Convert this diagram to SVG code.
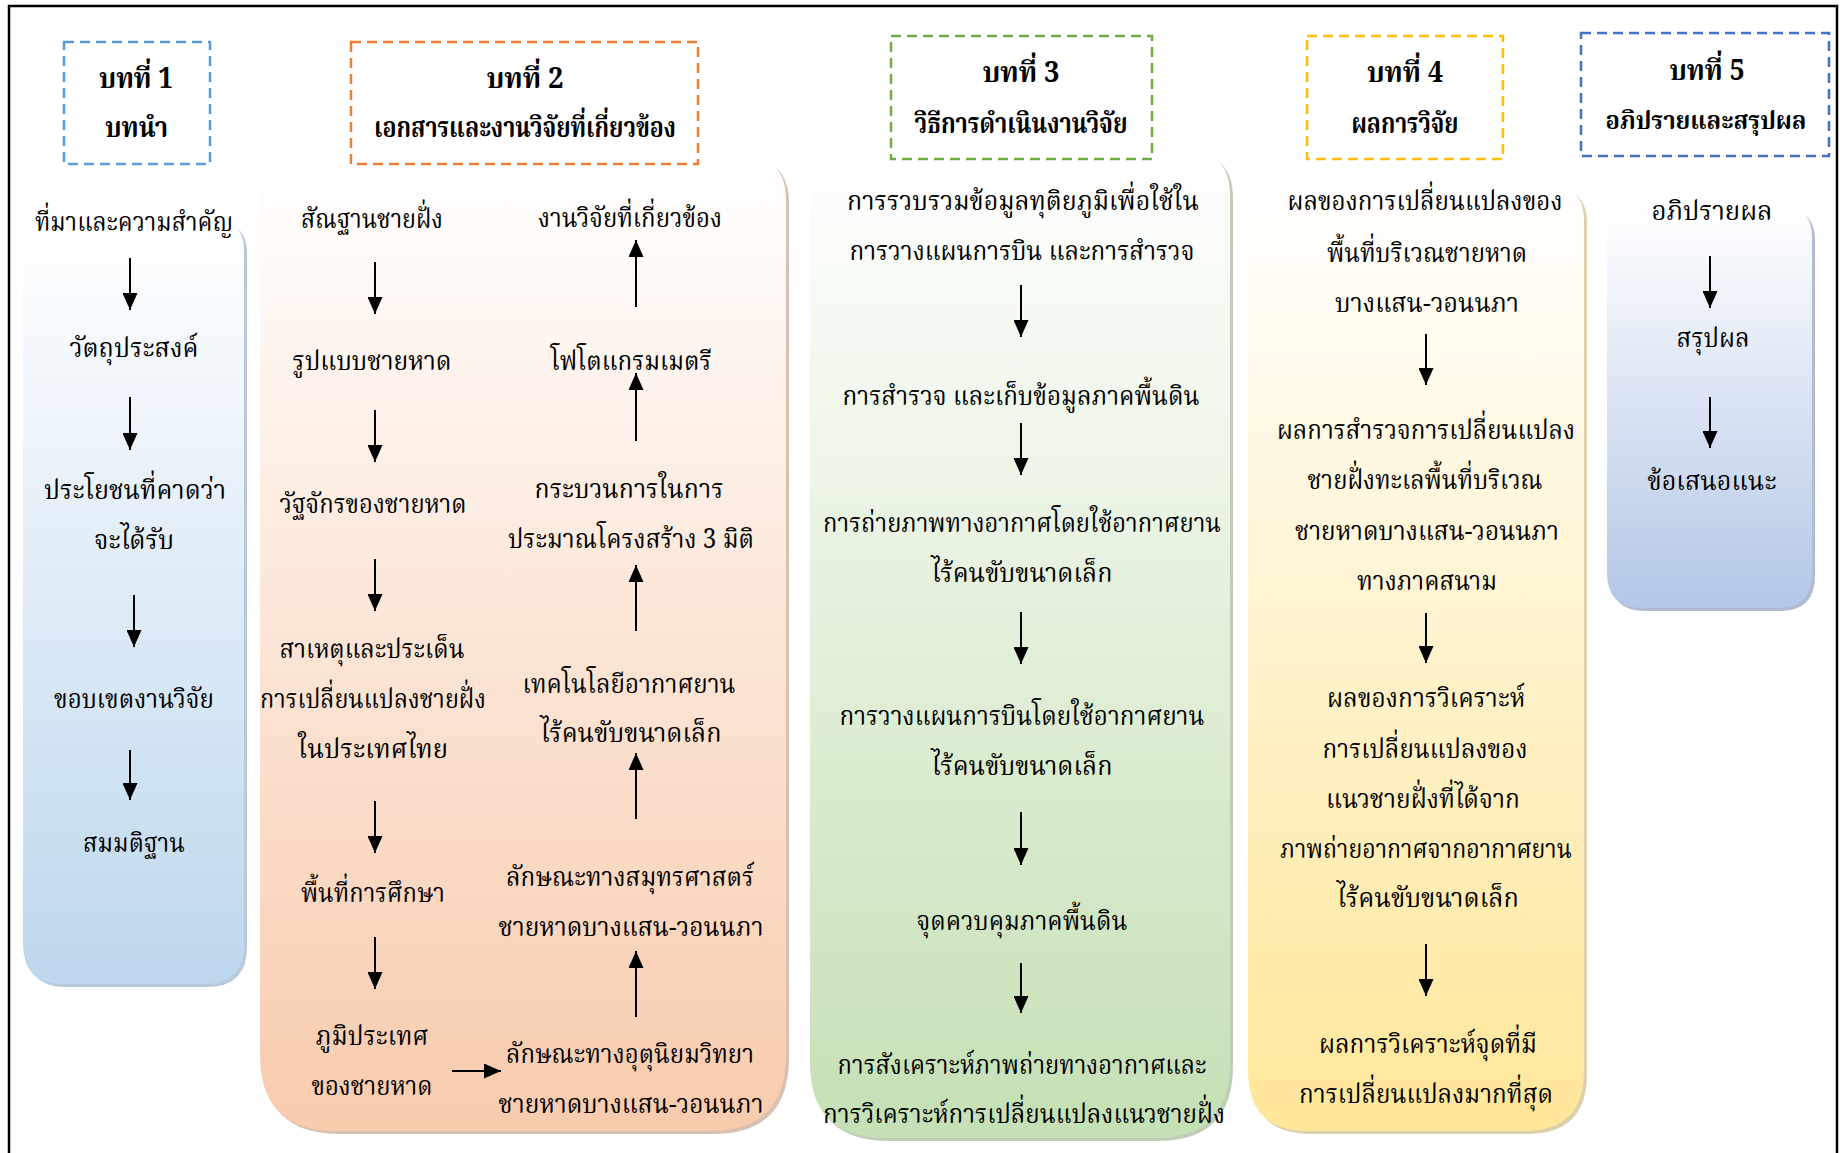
<svg xmlns="http://www.w3.org/2000/svg" width="1840" height="1153" viewBox="0 0 1840 1153">
<defs>
<linearGradient id="gBlue1" x1="0" y1="0" x2="0" y2="1"><stop offset="0" stop-color="#FFFFFF"/><stop offset="1" stop-color="#BDD7EE"/></linearGradient>
<linearGradient id="gOrange" x1="0" y1="0" x2="0" y2="1"><stop offset="0" stop-color="#FFFFFF"/><stop offset="1" stop-color="#F8CBAD"/></linearGradient>
<linearGradient id="gGreen" x1="0" y1="0" x2="0" y2="1"><stop offset="0" stop-color="#FFFFFF"/><stop offset="1" stop-color="#C5E0B4"/></linearGradient>
<linearGradient id="gGold" x1="0" y1="0" x2="0" y2="1"><stop offset="0" stop-color="#FFFFFF"/><stop offset="1" stop-color="#FFE699"/></linearGradient>
<linearGradient id="gBlue5" x1="0" y1="0" x2="0" y2="1"><stop offset="0" stop-color="#FFFFFF"/><stop offset="1" stop-color="#B4C7E7"/></linearGradient>
<marker id="ah" markerUnits="userSpaceOnUse" markerWidth="17" markerHeight="15" refX="17" refY="7.5" orient="auto">
<path d="M0,0 L17,7.5 L0,15 z" fill="#000"/>
</marker>
<style>
.t{font-family:"Noto Serif Thai","Noto Sans Thai","Garuda","Loma","Liberation Serif",serif;font-size:27px;fill:#000;text-anchor:middle}
.h{font-weight:bold;font-size:28px}
.hs{font-size:24px}
.box{fill:none;stroke-width:2.5;stroke-dasharray:10 6}
.arr{stroke:#000;stroke-width:2;fill:none;marker-end:url(#ah)}
.sh{opacity:0.55}
</style>
</defs>
<rect x="9" y="6" width="1828" height="1170" fill="#FFFFFF" stroke="#000" stroke-width="2.5"/>

<g id="panels">
<path class="sh" fill="#7F9DBF" d="M56,223 H217 Q247,223 247,253 V947 Q247,987 207,987 H66 Q26,987 26,947 V253 Q26,223 56,223 Z"/>
<path fill="url(#gBlue1)" d="M53,220 H214 Q244,220 244,250 V944 Q244,984 204,984 H63 Q23,984 23,944 V250 Q23,220 53,220 Z"/>
<path class="sh" fill="#B98E73" d="M308,158 H744 Q789,158 789,203 V1058 Q789,1134 713,1134 H339 Q263,1134 263,1058 V203 Q263,158 308,158 Z"/>
<path fill="url(#gOrange)" d="M305,155 H741 Q786,155 786,200 V1055 Q786,1131 710,1131 H336 Q260,1131 260,1055 V200 Q260,155 305,155 Z"/>
<path class="sh" fill="#8CA67B" d="M858,153 H1188 Q1233,153 1233,198 V1066 Q1233,1141 1158,1141 H888 Q813,1141 813,1066 V198 Q813,153 858,153 Z"/>
<path fill="url(#gGreen)" d="M855,150 H1185 Q1230,150 1230,195 V1063 Q1230,1138 1155,1138 H885 Q810,1138 810,1063 V195 Q810,150 855,150 Z"/>
<path class="sh" fill="#BFA867" d="M1286,188 H1552 Q1587,188 1587,223 V1074 Q1587,1134 1527,1134 H1311 Q1251,1134 1251,1074 V223 Q1251,188 1286,188 Z"/>
<path fill="url(#gGold)" d="M1283,185 H1549 Q1584,185 1584,220 V1071 Q1584,1131 1524,1131 H1308 Q1248,1131 1248,1071 V220 Q1248,185 1283,185 Z"/>
<path class="sh" fill="#7185AE" d="M1640,210 H1785 Q1815,210 1815,240 V576 Q1815,611 1780,611 H1645 Q1610,611 1610,576 V240 Q1610,210 1640,210 Z"/>
<path fill="url(#gBlue5)" d="M1637,207 H1782 Q1812,207 1812,237 V573 Q1812,608 1777,608 H1642 Q1607,608 1607,573 V237 Q1607,207 1637,207 Z"/>
</g>

<g id="chapter1">
<rect class="box" stroke="#5B9BD5" x="64" y="42" width="146" height="122"/>
<text class="t h" x="136" y="88" textLength="74" lengthAdjust="spacingAndGlyphs">บทที่ 1</text>
<text class="t h" x="136.5" y="137" textLength="63" lengthAdjust="spacingAndGlyphs">บทนำ</text>
</g>
<g id="chapter2">
<rect class="box" stroke="#ED7D31" x="351" y="42" width="347" height="122"/>
<text class="t h" x="525" y="88" textLength="77" lengthAdjust="spacingAndGlyphs">บทที่ 2</text>
<text class="t h" x="525" y="137" textLength="302" lengthAdjust="spacingAndGlyphs">เอกสารและงานวิจัยที่เกี่ยวข้อง</text>
</g>
<g id="chapter3">
<rect class="box" stroke="#70AD47" x="891" y="36" width="261" height="123"/>
<text class="t h" x="1021" y="82" textLength="77" lengthAdjust="spacingAndGlyphs">บทที่ 3</text>
<text class="t h" x="1021" y="133" textLength="213" lengthAdjust="spacingAndGlyphs">วิธีการดำเนินงานวิจัย</text>
</g>
<g id="chapter4">
<rect class="box" stroke="#FFC000" x="1307" y="36" width="196" height="123"/>
<text class="t h" x="1405" y="82" textLength="76" lengthAdjust="spacingAndGlyphs">บทที่ 4</text>
<text class="t h" x="1405" y="133" textLength="107" lengthAdjust="spacingAndGlyphs">ผลการวิจัย</text>
</g>
<g id="chapter5">
<rect class="box" stroke="#4472C4" x="1581" y="33" width="248" height="123"/>
<text class="t h" x="1707" y="80" textLength="75" lengthAdjust="spacingAndGlyphs">บทที่ 5</text>
<text class="t h hs" x="1706" y="129" textLength="201" lengthAdjust="spacingAndGlyphs">อภิปรายและสรุปผล</text>
</g>

<g id="c1-background"><text class="t" x="134" y="231" textLength="198" lengthAdjust="spacingAndGlyphs">ที่มาและความสำคัญ</text></g>
<g id="c1-objective"><text class="t" x="134" y="357" textLength="129" lengthAdjust="spacingAndGlyphs">วัตถุประสงค์</text></g>
<g id="c1-benefit"><text class="t" x="135" y="499" textLength="182" lengthAdjust="spacingAndGlyphs">ประโยชนที่คาดว่า</text><text class="t" x="134" y="549" textLength="80" lengthAdjust="spacingAndGlyphs">จะได้รับ</text></g>
<g id="c1-scope"><text class="t" x="134" y="708" textLength="160" lengthAdjust="spacingAndGlyphs">ขอบเขตงานวิจัย</text></g>
<g id="c1-hypothesis"><text class="t" x="134" y="852" textLength="102" lengthAdjust="spacingAndGlyphs">สมมติฐาน</text></g>

<g id="c2-morphology"><text class="t" x="372" y="228" textLength="142" lengthAdjust="spacingAndGlyphs">สัณฐานชายฝั่ง</text></g>
<g id="c2-beachtype"><text class="t" x="372" y="370" textLength="159" lengthAdjust="spacingAndGlyphs">รูปแบบชายหาด</text></g>
<g id="c2-cycle"><text class="t" x="373" y="513" textLength="187" lengthAdjust="spacingAndGlyphs">วัฐจักรของชายหาด</text></g>
<g id="c2-causes"><text class="t" x="372" y="658" textLength="185" lengthAdjust="spacingAndGlyphs">สาเหตุและประเด็น</text><text class="t" x="373" y="708" textLength="226" lengthAdjust="spacingAndGlyphs">การเปลี่ยนแปลงชายฝั่ง</text><text class="t" x="373" y="758" textLength="150" lengthAdjust="spacingAndGlyphs">ในประเทศไทย</text></g>
<g id="c2-area"><text class="t" x="373" y="902" textLength="144" lengthAdjust="spacingAndGlyphs">พื้นที่การศึกษา</text></g>
<g id="c2-terrain"><text class="t" x="372" y="1045" textLength="113" lengthAdjust="spacingAndGlyphs">ภูมิประเทศ</text><text class="t" x="372" y="1095" textLength="121" lengthAdjust="spacingAndGlyphs">ของชายหาด</text></g>
<g id="c2-meteo"><text class="t" x="630" y="1063" textLength="248" lengthAdjust="spacingAndGlyphs">ลักษณะทางอุตุนิยมวิทยา</text><text class="t" x="631" y="1113" textLength="265" lengthAdjust="spacingAndGlyphs">ชายหาดบางแสน-วอนนภา</text></g>
<g id="c2-ocean"><text class="t" x="630" y="886" textLength="248" lengthAdjust="spacingAndGlyphs">ลักษณะทางสมุทรศาสตร์</text><text class="t" x="631" y="936" textLength="265" lengthAdjust="spacingAndGlyphs">ชายหาดบางแสน-วอนนภา</text></g>
<g id="c2-uav"><text class="t" x="629" y="693" textLength="213" lengthAdjust="spacingAndGlyphs">เทคโนโลยีอากาศยาน</text><text class="t" x="631" y="742" textLength="181" lengthAdjust="spacingAndGlyphs">ไร้คนขับขนาดเล็ก</text></g>
<g id="c2-process"><text class="t" x="629" y="498" textLength="189" lengthAdjust="spacingAndGlyphs">กระบวนการในการ</text><text class="t" x="631" y="548" textLength="246" lengthAdjust="spacingAndGlyphs">ประมาณโครงสร้าง 3 มิติ</text></g>
<g id="c2-photogrammetry"><text class="t" x="631" y="370" textLength="161" lengthAdjust="spacingAndGlyphs">โฟโตแกรมเมตรี</text></g>
<g id="c2-related"><text class="t" x="630" y="227" textLength="184" lengthAdjust="spacingAndGlyphs">งานวิจัยที่เกี่ยวข้อง</text></g>

<g id="c3-secondary"><text class="t" x="1023" y="210" textLength="352" lengthAdjust="spacingAndGlyphs">การรวบรวมข้อมูลทุติยภูมิเพื่อใช้ใน</text><text class="t" x="1022" y="260" textLength="345" lengthAdjust="spacingAndGlyphs">การวางแผนการบิน และการสำรวจ</text></g>
<g id="c3-survey"><text class="t" x="1021" y="405" textLength="357" lengthAdjust="spacingAndGlyphs">การสำรวจ และเก็บข้อมูลภาคพื้นดิน</text></g>
<g id="c3-aerial"><text class="t" x="1022" y="532" textLength="398" lengthAdjust="spacingAndGlyphs">การถ่ายภาพทางอากาศโดยใช้อากาศยาน</text><text class="t" x="1022" y="582" textLength="181" lengthAdjust="spacingAndGlyphs">ไร้คนขับขนาดเล็ก</text></g>
<g id="c3-planning"><text class="t" x="1022" y="725" textLength="365" lengthAdjust="spacingAndGlyphs">การวางแผนการบินโดยใช้อากาศยาน</text><text class="t" x="1022" y="775" textLength="181" lengthAdjust="spacingAndGlyphs">ไร้คนขับขนาดเล็ก</text></g>
<g id="c3-gcp"><text class="t" x="1022" y="930" textLength="211" lengthAdjust="spacingAndGlyphs">จุดควบคุมภาคพื้นดิน</text></g>
<g id="c3-synthesis"><text class="t" x="1022" y="1074" textLength="369" lengthAdjust="spacingAndGlyphs">การสังเคราะห์ภาพถ่ายทางอากาศและ</text><text class="t" x="1024" y="1123" textLength="402" lengthAdjust="spacingAndGlyphs">การวิเคราะห์การเปลี่ยนแปลงแนวชายฝั่ง</text></g>

<g id="c4-change"><text class="t" x="1425" y="210" textLength="275" lengthAdjust="spacingAndGlyphs">ผลของการเปลี่ยนแปลงของ</text><text class="t" x="1427" y="262" textLength="200" lengthAdjust="spacingAndGlyphs">พื้นที่บริเวณชายหาด</text><text class="t" x="1427" y="312" textLength="184" lengthAdjust="spacingAndGlyphs">บางแสน-วอนนภา</text></g>
<g id="c4-field"><text class="t" x="1426" y="439" textLength="298" lengthAdjust="spacingAndGlyphs">ผลการสำรวจการเปลี่ยนแปลง</text><text class="t" x="1425" y="489" textLength="235" lengthAdjust="spacingAndGlyphs">ชายฝั่งทะเลพื้นที่บริเวณ</text><text class="t" x="1427" y="540" textLength="264" lengthAdjust="spacingAndGlyphs">ชายหาดบางแสน-วอนนภา</text><text class="t" x="1427" y="590" textLength="140" lengthAdjust="spacingAndGlyphs">ทางภาคสนาม</text></g>
<g id="c4-analysis"><text class="t" x="1426" y="707" textLength="198" lengthAdjust="spacingAndGlyphs">ผลของการวิเคราะห์</text><text class="t" x="1425" y="758" textLength="205" lengthAdjust="spacingAndGlyphs">การเปลี่ยนแปลงของ</text><text class="t" x="1423" y="808" textLength="194" lengthAdjust="spacingAndGlyphs">แนวชายฝั่งที่ได้จาก</text><text class="t" x="1426" y="858" textLength="292" lengthAdjust="spacingAndGlyphs">ภาพถ่ายอากาศจากอากาศยาน</text><text class="t" x="1428" y="907" textLength="182" lengthAdjust="spacingAndGlyphs">ไร้คนขับขนาดเล็ก</text></g>
<g id="c4-hotspot"><text class="t" x="1428" y="1053" textLength="218" lengthAdjust="spacingAndGlyphs">ผลการวิเคราะห์จุดที่มี</text><text class="t" x="1426" y="1103" textLength="254" lengthAdjust="spacingAndGlyphs">การเปลี่ยนแปลงมากที่สุด</text></g>

<g id="c5-discussion"><text class="t" x="1712" y="220" textLength="121" lengthAdjust="spacingAndGlyphs">อภิปรายผล</text></g>
<g id="c5-conclusion"><text class="t" x="1713" y="347" textLength="73" lengthAdjust="spacingAndGlyphs">สรุปผล</text></g>
<g id="c5-suggestion"><text class="t" x="1712" y="490" textLength="129" lengthAdjust="spacingAndGlyphs">ข้อเสนอแนะ</text></g>

<g id="connectors">
<line class="arr" x1="130" y1="258" x2="130" y2="310"/>
<line class="arr" x1="130" y1="397" x2="130" y2="450"/>
<line class="arr" x1="134" y1="595" x2="134" y2="647"/>
<line class="arr" x1="130" y1="750" x2="130" y2="800"/>
<line class="arr" x1="375" y1="262" x2="375" y2="314"/>
<line class="arr" x1="375" y1="410" x2="375" y2="462"/>
<line class="arr" x1="375" y1="559" x2="375" y2="611"/>
<line class="arr" x1="375" y1="801" x2="375" y2="853"/>
<line class="arr" x1="375" y1="937" x2="375" y2="989"/>
<line class="arr" x1="452" y1="1071" x2="501" y2="1071"/>
<line class="arr" x1="636" y1="1017" x2="636" y2="951"/>
<line class="arr" x1="636" y1="819" x2="636" y2="753"/>
<line class="arr" x1="636" y1="631" x2="636" y2="565"/>
<line class="arr" x1="636" y1="441" x2="636" y2="373"/>
<line class="arr" x1="636" y1="307" x2="636" y2="240"/>
<line class="arr" x1="1021" y1="285" x2="1021" y2="337"/>
<line class="arr" x1="1021" y1="423" x2="1021" y2="475"/>
<line class="arr" x1="1021" y1="612" x2="1021" y2="664"/>
<line class="arr" x1="1021" y1="812" x2="1021" y2="865"/>
<line class="arr" x1="1021" y1="963" x2="1021" y2="1013"/>
<line class="arr" x1="1426" y1="334" x2="1426" y2="385"/>
<line class="arr" x1="1426" y1="613" x2="1426" y2="663"/>
<line class="arr" x1="1426" y1="944" x2="1426" y2="996"/>
<line class="arr" x1="1710" y1="256" x2="1710" y2="308"/>
<line class="arr" x1="1710" y1="397" x2="1710" y2="448"/>
</g>
</svg>
